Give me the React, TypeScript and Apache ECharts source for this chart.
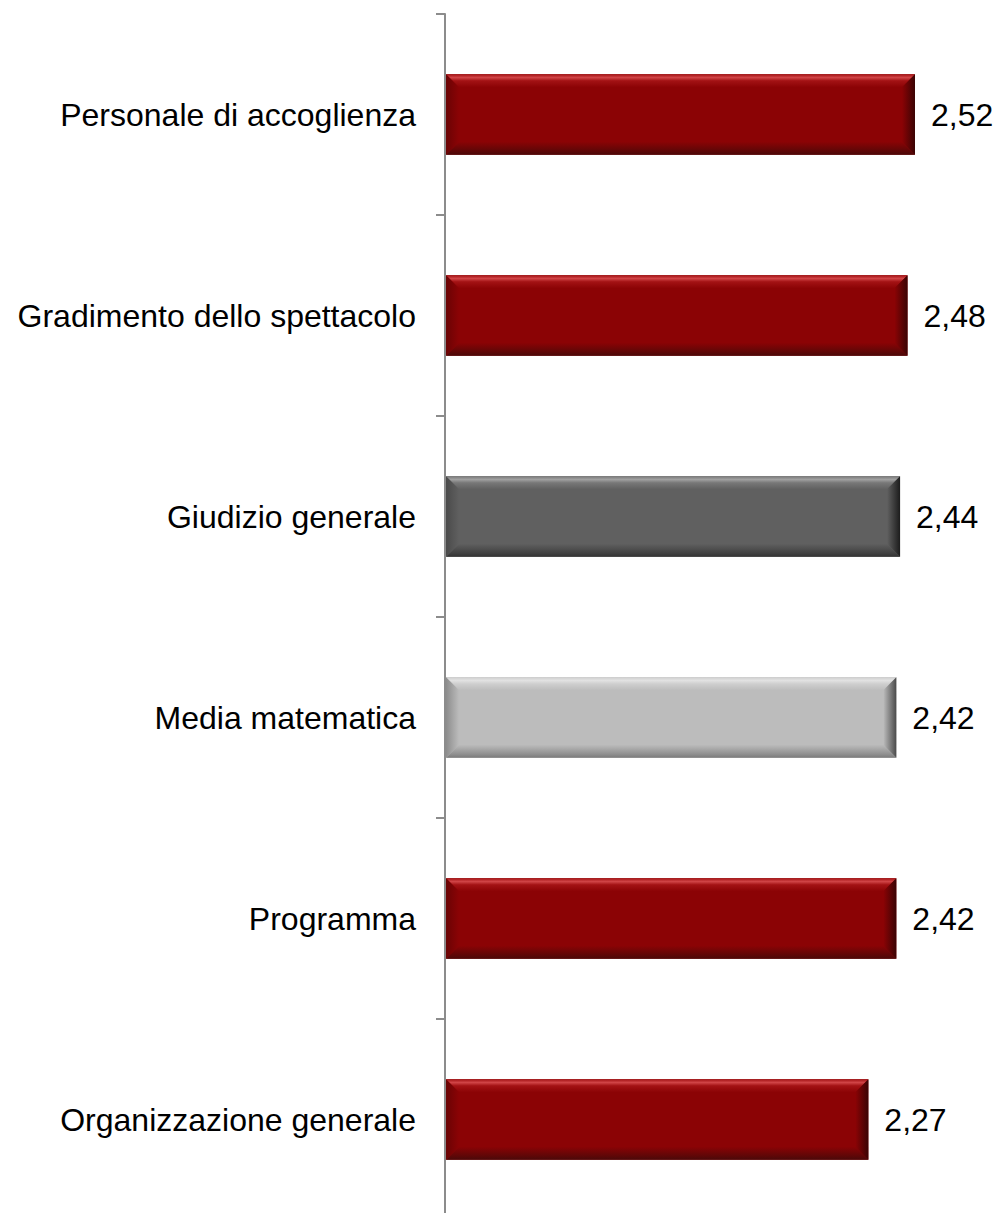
import React, { useEffect, useRef } from "react";
import * as echarts from "echarts";

const categories = [
  "Personale di accoglienza",
  "Gradimento dello spettacolo",
  "Giudizio generale",
  "Media matematica",
  "Programma",
  "Organizzazione generale",
];
const values = [2.52, 2.48, 2.44, 2.42, 2.42, 2.27];
const valueLabels = ["2,52", "2,48", "2,44", "2,42", "2,42", "2,27"];
// 0 = red, 1 = dark grey, 2 = light grey
const colorKinds = [0, 0, 1, 2, 0, 0];

const palettes = [
  { face: "#8b0305", topEdge: "#d04446", top: "#a31214", leftEdge: "#6a0304", bottom: "#5c0707", bottomEdge: "#4a0909", right: "#3a0404" },
  { face: "#606060", topEdge: "#a0a0a0", top: "#787878", leftEdge: "#4a4a4a", bottom: "#404040", bottomEdge: "#333333", right: "#1c1c1c" },
  { face: "#bcbcbc", topEdge: "#e2e2e2", top: "#cfcfcf", leftEdge: "#8c8c8c", bottom: "#8e8e8e", bottomEdge: "#7a7a7a", right: "#4a4a4a" },
];

export default function App() {
  const ref = useRef<HTMLDivElement>(null);
  useEffect(() => {
    if (!ref.current) return;
    const chart = echarts.init(ref.current, null, { renderer: "svg" });
    const data = values.map((v, i) => [v, i, colorKinds[i]]);
    const LG = echarts.graphic.LinearGradient;
    chart.setOption({
      animation: false,
      grid: { left: 445, top: 14, width: 2.8 * 186.5, height: 1206 },
      xAxis: { type: "value", min: 0, max: 2.8, show: false },
      yAxis: {
        type: "category",
        data: categories,
        inverse: true,
        axisLine: { show: true, lineStyle: { color: "#8c8c8c", width: 2 } },
        axisTick: { show: true, length: 9, lineStyle: { color: "#8c8c8c", width: 2 } },
        axisLabel: { color: "#000", fontSize: 32, fontFamily: "Liberation Sans, Arial, sans-serif", margin: 29 },
        splitLine: { show: false },
      },
      series: [
        {
          type: "custom",
          encode: { x: 0, y: 1 },
          data,
          renderItem: (params: any, api: any) => {
            const val = api.value(0);
            const idx = api.value(1);
            const pal = palettes[api.value(2)];
            const p0 = api.coord([0, idx]);
            const p1 = api.coord([val, idx]);
            const h = api.size([0, 1])[1] * 0.4;
            const x0 = p0[0] + 1;
            const x1 = p1[0];
            const y0 = p0[1] - h / 2;
            const y1 = p0[1] + h / 2;
            const b = 13;
            return {
              type: "group",
              children: [
                { type: "rect", shape: { x: x0, y: y0, width: x1 - x0, height: y1 - y0 }, style: { fill: pal.face } },
                {
                  type: "polygon",
                  shape: { points: [[x0, y0], [x1, y0], [x1 - b, y0 + b], [x0 + b, y0 + b]] },
                  style: { fill: new LG(0, 0, 0, 1, [
                    { offset: 0, color: pal.top },
                    { offset: 0.25, color: pal.topEdge },
                    { offset: 0.5, color: pal.top },
                    { offset: 1, color: pal.face },
                  ]) },
                },
                {
                  type: "polygon",
                  shape: { points: [[x0, y1], [x1, y1], [x1 - b, y1 - b], [x0 + b, y1 - b]] },
                  style: { fill: new LG(0, 0, 0, 1, [
                    { offset: 0, color: pal.face },
                    { offset: 0.75, color: pal.bottom },
                    { offset: 1, color: pal.bottomEdge },
                  ]) },
                },
                {
                  type: "polygon",
                  shape: { points: [[x0, y0], [x0 + b, y0 + b], [x0 + b, y1 - b], [x0, y1]] },
                  style: { fill: new LG(0, 0, 1, 0, [
                    { offset: 0, color: pal.leftEdge },
                    { offset: 1, color: pal.face },
                  ]) },
                },
                {
                  type: "polygon",
                  shape: { points: [[x1, y0], [x1 - b, y0 + b], [x1 - b, y1 - b], [x1, y1]] },
                  style: { fill: new LG(0, 0, 1, 0, [
                    { offset: 0, color: pal.face },
                    { offset: 1, color: pal.right },
                  ]) },
                },
                {
                  type: "text",
                  x: x1 + 16,
                  y: p0[1],
                  style: {
                    text: valueLabels[idx],
                    fill: "#000",
                    fontSize: 32,
                    fontFamily: "Liberation Sans, Arial, sans-serif",
                    align: "left",
                    verticalAlign: "middle",
                  },
                },
              ],
            };
          },
        },
      ],
    });
    return () => chart.dispose();
  }, []);
  return (
    <div
      ref={ref}
      style={{ position: "absolute", left: 0, top: 0, width: 999, height: 1230, background: "#fff" }}
    />
  );
}
